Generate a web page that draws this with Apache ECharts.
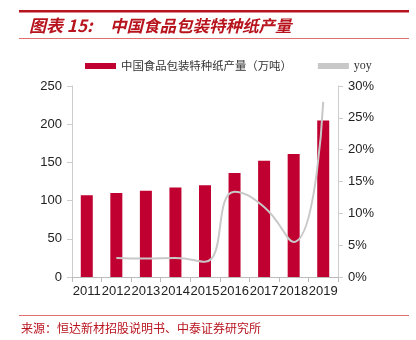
<!DOCTYPE html>
<html><head><meta charset="utf-8">
<script src="https://cdn.jsdelivr.net/npm/echarts@6/dist/echarts.min.js"></script>
<style>html,body{margin:0;padding:0;background:#fff}#c{width:416px;height:340px}</style>
</head><body><div id="c"></div>
<script>
const categories = ['2011','2012','2013','2014','2015','2016','2017','2018','2019'];
const production = [107, 110, 113, 117, 120, 136, 152, 161, 205];
const yoy = [null, 3.0, 2.9, 3.0, 2.4, 13.4, 11.0, 5.5, 27.5];
const leftTicks = [0, 250, 50];
const rightTicks = [0, 30, 5];
const barName = '中国食品包装特种纸产量（万吨）';
const lineName = 'yoy';

const chart = echarts.init(document.getElementById('c'));
const red = '#b8141e';
chart.setOption({
  animation: false,
  graphic: [
    {type: 'rect', shape: {x: 19, y: 10, width: 390, height: 2.5}, style: {fill: red}},
    {type: 'text', left: 29, top: 17, style: {text: '图表 15:', fill: red, font: 'italic bold 17px "Noto Sans CJK SC"'}},
    {type: 'text', left: 110, top: 17, style: {text: '中国食品包装特种纸产量', fill: red, font: 'italic bold 16.5px "Noto Sans CJK SC"'}},
    {type: 'line', shape: {x1: 19, y1: 38.5, x2: 409, y2: 38.5}, style: {stroke: '#e07070', lineWidth: 1}},
    {type: 'line', shape: {x1: 19, y1: 315.5, x2: 409, y2: 315.5}, style: {stroke: '#e07070', lineWidth: 1}},
    {type: 'text', left: 21, top: 322, style: {text: '来源：恒达新材招股说明书、中泰证券研究所', fill: red, font: '12px "Noto Sans CJK SC"'}}
  ],
  legend: {
    left: 80, top: 55, itemGap: 26,
    data: [
      {name: barName, icon: 'rect', itemStyle: {color: '#c00030'}, textStyle: {fontFamily: 'Noto Sans CJK SC', fontSize: 11.4, color: '#333'}},
      {name: lineName, icon: 'rect', itemStyle: {color: '#c8c8c8'}, textStyle: {fontFamily: 'Liberation Serif', fontSize: 12, color: '#333'}}
    ],
    itemWidth: 31, itemHeight: 6
  },
  grid: {left: 72, right: 78, top: 86, bottom: 63},
  xAxis: {
    type: 'category', data: categories,
    axisLine: {lineStyle: {color: '#bbb'}},
    axisTick: {show: true, lineStyle: {color: '#bbb'}},
    axisLabel: {interval: 0, color: '#222', fontSize: 13, fontFamily: 'Liberation Sans', margin: 8}
  },
  yAxis: [
    {type: 'value', min: leftTicks[0], max: leftTicks[1], interval: leftTicks[2],
     axisLine: {show: true, lineStyle: {color: '#ccc'}},
     axisTick: {show: true, lineStyle: {color: '#ccc'}},
     splitLine: {show: false},
     axisLabel: {color: '#222', fontSize: 13, fontFamily: 'Liberation Sans', margin: 10}},
    {type: 'value', min: rightTicks[0], max: rightTicks[1], interval: rightTicks[2],
     axisLine: {show: true, lineStyle: {color: '#ccc'}},
     axisTick: {show: true, lineStyle: {color: '#ccc'}},
     splitLine: {show: false},
     axisLabel: {color: '#222', fontSize: 13, fontFamily: 'Liberation Sans', margin: 10, formatter: '{value}%'}}
  ],
  series: [
    {name: barName, type: 'bar', data: production, barWidth: 12, itemStyle: {color: '#c00030'}},
    {name: lineName, type: 'line', yAxisIndex: 1, data: yoy, smooth: true, showSymbol: false,
     lineStyle: {color: '#c8c8c8', width: 2}, itemStyle: {color: '#c8c8c8'}}
  ]
});
</script></body></html>
